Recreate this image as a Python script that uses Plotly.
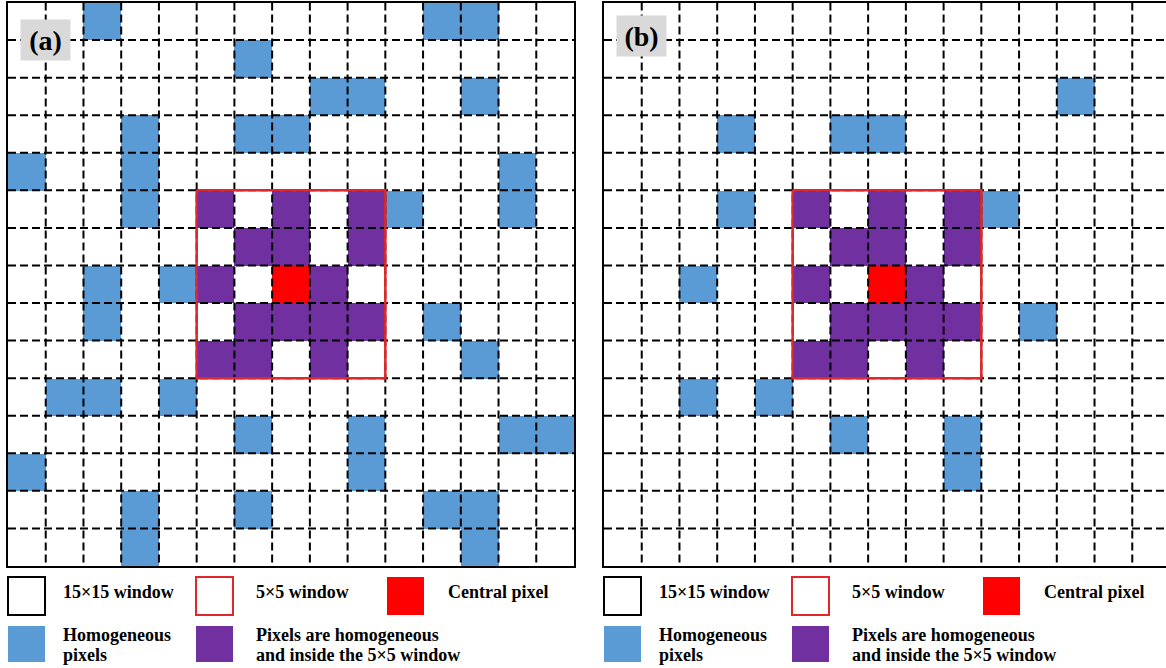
import numpy as np
import plotly.graph_objects as go

W, H = 1166, 668
N = 15                 # size of the large window
INNER = (5, 10)        # 5x5 window: first and past-the-end cell index
CENTER = (7, 7)        # (row, col) of the central pixel

# Homogeneous pixels, listed per row (column indices), for each panel
blue_a = [[2, 11, 12], [6], [8, 9, 12], [3, 6, 7], [0, 3, 13],
          [3, 10, 13], [], [2, 4], [2, 11], [12],
          [1, 2, 4], [6, 9, 13, 14], [0, 9], [3, 6, 11, 12], [3, 12]]
blue_b = [[], [], [12], [3, 6, 7], [],
          [3, 10], [], [2], [11], [],
          [2, 4], [6, 9], [9], [], []]

# Homogeneous pixels that fall inside the 5x5 window
purple_rows = [5, 6, 7, 8, 9]
purple_cols = [[5, 7, 9], [6, 7, 9], [5, 8], [6, 7, 8, 9], [5, 6, 8]]

panel_labels = ["(a)", "(b)"]
legend_labels = ["15×15 window", "5×5 window", "Central pixel",
                 ["Homogeneous", "pixels"],
                 ["Pixels are homogeneous", "and inside the 5×5 window"]]

BLUE = "#5b9bd5"
PURPLE = "#7030a0"
RED = "#ff0000"
BOX_RED = "#e3262a"
FONT = "Liberation Serif"

# pixel layout of the two panels
CELL = (574 - 8) / N
panel_left = [8, 604]
top_px, bottom_px = 2.5, 566


def build_grid(blue):
    z = np.zeros((N, N))
    for r, cols in enumerate(blue):
        for c in cols:
            z[r, c] = 1
    for r, cols in zip(purple_rows, purple_cols):
        for c in cols:
            z[r, c] = 2
    z[CENTER[0], CENTER[1]] = 3
    return z


def px_x(p):
    return p / W


def px_y(p):
    return 1 - p / H


fig = go.Figure()
colorscale = [[0, "white"], [1 / 3, BLUE], [2 / 3, PURPLE], [1, RED]]
centers = np.arange(N) + 0.5

for i, blue in enumerate([blue_a, blue_b]):
    xa = "x" if i == 0 else "x2"
    ya = "y" if i == 0 else "y2"
    fig.add_trace(go.Heatmap(z=build_grid(blue), x=centers, y=centers,
                             colorscale=colorscale, zmin=0, zmax=3,
                             showscale=False, hoverinfo="skip",
                             xaxis=xa, yaxis=ya))
    # dashed grid lines between cells
    gx, gy = [], []
    for k in range(1, N):
        gx += [0, N, None, k, k, None]
        gy += [k, k, None, 0, N, None]
    fig.add_trace(go.Scatter(x=gx, y=gy, mode="lines",
                             line=dict(color="black", width=2, dash="8px,4px"),
                             hoverinfo="skip", showlegend=False,
                             xaxis=xa, yaxis=ya))
    # 5x5 window outline
    a, b = INNER
    fig.add_trace(go.Scatter(x=[a, b, b, a, a], y=[a, a, b, b, a], mode="lines",
                             line=dict(color=BOX_RED, width=2.5),
                             hoverinfo="skip", showlegend=False,
                             xaxis=xa, yaxis=ya))
    fig.add_annotation(x=1, y=1, xref=xa, yref=ya, text=f"<b>{panel_labels[i]}</b>",
                       showarrow=False, bgcolor="#d9d9d9", width=47, height=38,
                       yshift=4 * i,
                       font=dict(family=FONT, size=28, color="black"))

    # legend under the panel
    dx = panel_left[i] - panel_left[0]
    sw_left = [8, 196, 387]
    txt_left = [61, 254, 446]
    rows_y = [(577, 615), (626, 662)]
    swatches = [("white", "black"), ("white", BOX_RED), (RED, None),
                (BLUE, None), (PURPLE, None)]
    for j, (fill, edge) in enumerate(swatches):
        row, col = divmod(j, 3)
        y0, y1 = rows_y[row]
        fig.add_shape(type="rect", xref="paper", yref="paper",
                      x0=px_x(sw_left[col] + dx), x1=px_x(sw_left[col] + dx + 37),
                      y0=px_y(y1), y1=px_y(y0), fillcolor=fill,
                      line=dict(color=edge or fill, width=2 if edge else 0))
        label = legend_labels[j]
        lines = label if isinstance(label, list) else [label]
        ys = [592] if row == 0 else [635, 655]
        for t, yy in zip(lines, ys):
            fig.add_annotation(x=px_x(txt_left[col] + dx), y=px_y(yy),
                               xref="paper", yref="paper", text=f"<b>{t}</b>",
                               showarrow=False, xanchor="left", yanchor="middle",
                               font=dict(family=FONT, size=18, color="black"))

axis_common = dict(showgrid=False, zeroline=False, showticklabels=False,
                   ticks="", showline=True, linecolor="black", linewidth=2)
ydom = [px_y(bottom_px), px_y(top_px)]
fig.update_layout(
    width=W, height=H, margin=dict(l=0, r=0, t=0, b=0),
    paper_bgcolor="white", plot_bgcolor="white", showlegend=False,
    xaxis=dict(domain=[px_x(8), px_x(574)], range=[0, N], mirror=True, **axis_common),
    yaxis=dict(domain=ydom, range=[N, 0], mirror=True, **axis_common),
    xaxis2=dict(domain=[px_x(604), 1], range=[0, (W - 604) / CELL], mirror=True,
                anchor="y2", **axis_common),
    yaxis2=dict(domain=ydom, range=[N, 0], mirror=False, anchor="x2", **axis_common),
)

fig.write_html("out.html")
